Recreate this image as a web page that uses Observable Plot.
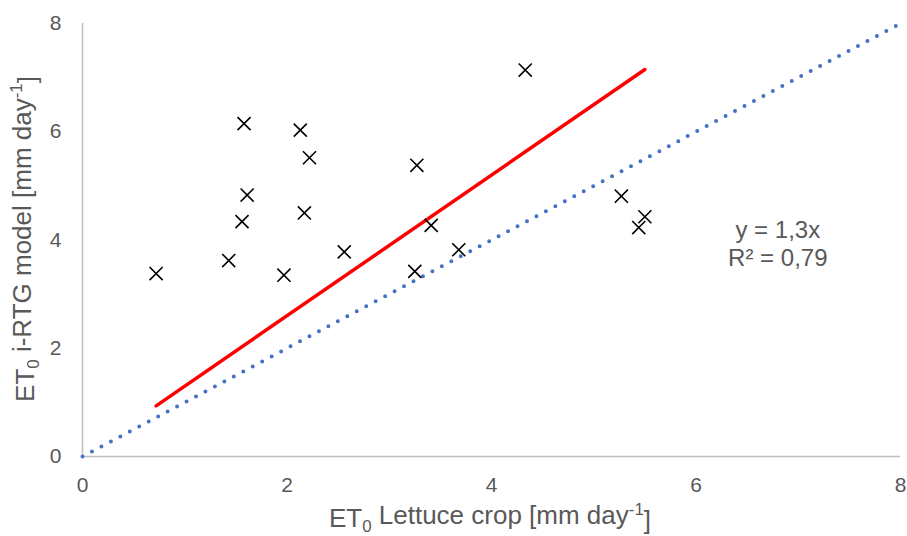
<!DOCTYPE html>
<html>
<head>
<meta charset="utf-8">
<script src="https://cdn.jsdelivr.net/npm/d3@7"></script>
<script src="https://cdn.jsdelivr.net/npm/@observablehq/plot@0.6"></script>
<style>
  html, body { margin: 0; padding: 0; background: #fff; }
  #chart { width: 907px; height: 536px; }
  svg { font-family: "Liberation Sans", Arial, sans-serif; }
</style>
</head>
<body>
<div id="chart"></div>
<script>
// Reference ET0 from the lettuce crop vs. ET0 estimated by the i-RTG model (mm/day)
const lettuceEt0 = [0.72, 1.43, 1.58, 1.61, 1.56, 1.97, 2.13, 2.22, 2.17, 2.56, 3.27, 3.25, 3.41, 3.68, 4.33, 5.27, 5.50, 5.44];
const modelEt0   = [3.38, 3.62, 6.15, 4.83, 4.34, 3.35, 6.03, 5.52, 4.50, 3.78, 5.38, 3.42, 4.27, 3.82, 7.14, 4.81, 4.43, 4.23];

// Trendline through the origin and its fit quality
const slope = 1.3;
const rSquared = 0.79;
const equationLines = ["y = 1,3x", "R² = 0,79"];

// Axis ticks and the 1:1 reference line
const ticks = [0, 2, 4, 6, 8];
const oneToOne = [0, 8];

const points = lettuceEt0.map((x, i) => ({x, y: modelEt0[i]}));
const fitX = d3.extent(lettuceEt0);
const fit = fitX.map(x => ({x, y: slope * x}));
const identity = oneToOne.map(v => ({x: v, y: v}));

const gray = "#595959";
const axisGray = "#bfbfbf";

const chart = Plot.plot({
  width: 907,
  height: 536,
  marginLeft: 82,
  marginRight: 7,
  marginTop: 23,
  marginBottom: 80,
  style: {fontFamily: "Liberation Sans, Arial, sans-serif", fontSize: "21px", color: gray, background: "#fff"},
  x: {domain: [0, 8], ticks, tickSize: 0, tickPadding: 21, label: null},
  y: {domain: [0, 8], ticks, tickSize: 0, tickPadding: 21, label: null},
  marks: [
    Plot.ruleX([0], {stroke: axisGray, strokeWidth: 1.5}),
    Plot.ruleY([0], {stroke: axisGray, strokeWidth: 1.5}),
    Plot.line(identity, {x: "x", y: "y", stroke: "#4472C4", strokeWidth: 4,
      strokeDasharray: "0 10.7", strokeLinecap: "round"}),
    Plot.line(fit, {x: "x", y: "y", stroke: "#ff0000", strokeWidth: 3.5}),
    Plot.dot(points, {x: "x", y: "y", symbol: "times", r: 6, stroke: "#000", strokeWidth: 1.6}),
    Plot.text([equationLines.join("\n")], {x: 6.8, y: 3.95, fontSize: 24, fill: gray,
      lineHeight: 1.17, textAnchor: "middle", frameAnchor: "middle"})
  ]
});

document.getElementById("chart").appendChild(chart);

const svg = d3.select(chart);

// Axis titles with subscript/superscript parts
function title(sel, parts) {
  parts.forEach(([txt, kind]) => {
    const t = sel.append("tspan").text(txt);
    if (kind === "sub") t.attr("font-size", "0.65em").attr("dy", "0.3em");
    if (kind === "sup") t.attr("font-size", "0.65em").attr("dy", "-0.55em");
    if (kind === "after-sub") t.attr("dy", "-0.3em");
    if (kind === "after-sup") t.attr("dy", "0.55em");
  });
}
const xt = svg.append("text")
  .attr("x", 490).attr("y", 527)
  .attr("text-anchor", "middle")
  .style("font-size", "26px").attr("fill", gray);
title(xt, [["ET"], ["0", "sub"], [" Lettuce crop [mm day", "after-sub"], ["-1", "sup"], ["]", "after-sup"]]);

const yt = svg.append("text")
  .attr("transform", "translate(34,239) rotate(-90)")
  .attr("text-anchor", "middle")
  .style("font-size", "26px").attr("fill", gray);
title(yt, [["ET"], ["0", "sub"], [" i-RTG model [mm day", "after-sub"], ["-1", "sup"], ["]", "after-sup"]]);
</script>
</body>
</html>
